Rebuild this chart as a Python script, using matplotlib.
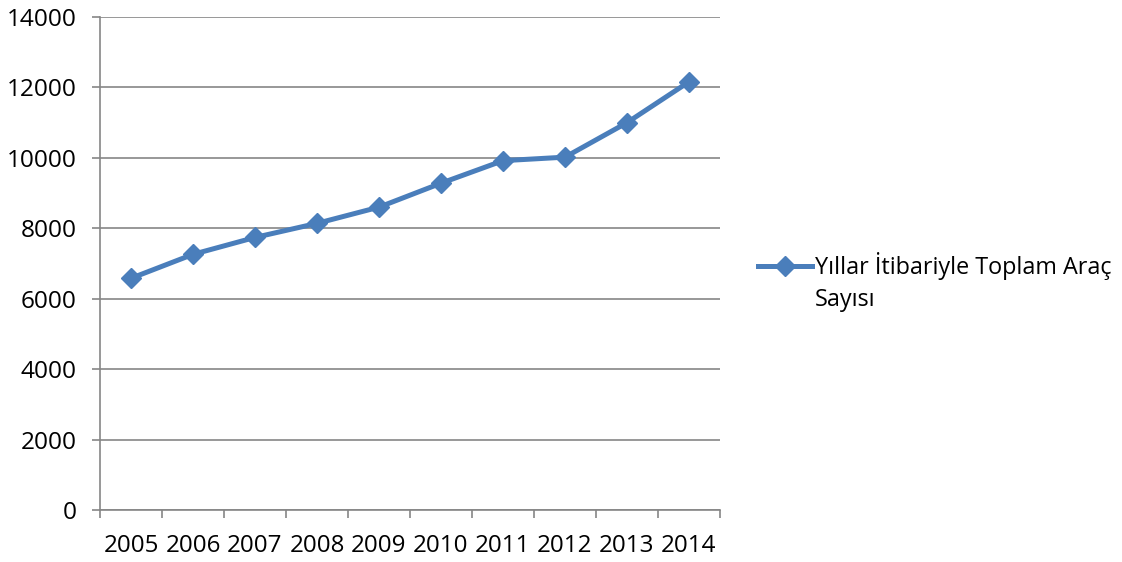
import matplotlib
matplotlib.use("Agg")
import matplotlib.pyplot as plt
from matplotlib.ticker import FixedLocator, MultipleLocator

plt.rcParams['font.family'] = ['Open Sans', 'DejaVu Sans']

# total vehicle counts by year
years = ['2005', '2006', '2007', '2008', '2009', '2010', '2011', '2012', '2013', '2014']
vehicles = [6580, 7260, 7740, 8140, 8600, 9280, 9920, 10020, 11000, 12160]
label_lines = ['Yıllar İtibariyle Toplam Araç', 'Sayısı']

LINE_BLUE = '#4a7ebb'
AXIS_GREY = '#868686'
W, H = 1122, 562

fig = plt.figure(figsize=(W / 100, H / 100), dpi=100)
ax = fig.add_axes([100 / W, 52 / H, 620 / W, 493 / H])

x = list(range(len(years)))
ax.plot(x, vehicles, color=LINE_BLUE, lw=3.6, marker='D', ms=10,
        label=label_lines[0], solid_joinstyle='round', zorder=3)

ax.set_xlim(-0.5, len(years) - 0.5)
ax.set_ylim(0, 14000)

# y axis: gridlines every 2000
ax.yaxis.set_major_locator(MultipleLocator(2000))
ax.grid(axis='y', color=AXIS_GREY, lw=1.2)
ax.set_axisbelow(True)

# x axis: labels in the middle of each category, ticks on the boundaries
ax.set_xticks(x)
ax.set_xticklabels(years)
ax.xaxis.set_minor_locator(FixedLocator([i - 0.5 for i in range(len(years) + 1)]))
ax.tick_params(axis='x', which='major', length=0, pad=17, labelsize=17.4)
ax.tick_params(axis='x', which='minor', length=6, width=1.2, color=AXIS_GREY,
               direction='out')
ax.tick_params(axis='y', length=6, width=1.2, color=AXIS_GREY, pad=11,
               labelsize=17.6)

for side in ('top', 'right'):
    ax.spines[side].set_visible(False)
for side in ('left', 'bottom'):
    ax.spines[side].set_color(AXIS_GREY)
    ax.spines[side].set_linewidth(1.2)

# legend with the handle next to the first line of the label
leg = fig.legend(loc='center left', bbox_to_anchor=(758 / W, 1 - 266 / H),
                 frameon=False, fontsize=16.8, handlelength=2.3,
                 handletextpad=0.15, borderaxespad=0, borderpad=0)

fig.canvas.draw()
first = leg.get_texts()[0].get_window_extent()
fig.text(first.x0 / W, 1 - 306 / H, label_lines[1], fontsize=16.8,
         va='baseline', ha='left')

fig.savefig('out.png', dpi=100)
